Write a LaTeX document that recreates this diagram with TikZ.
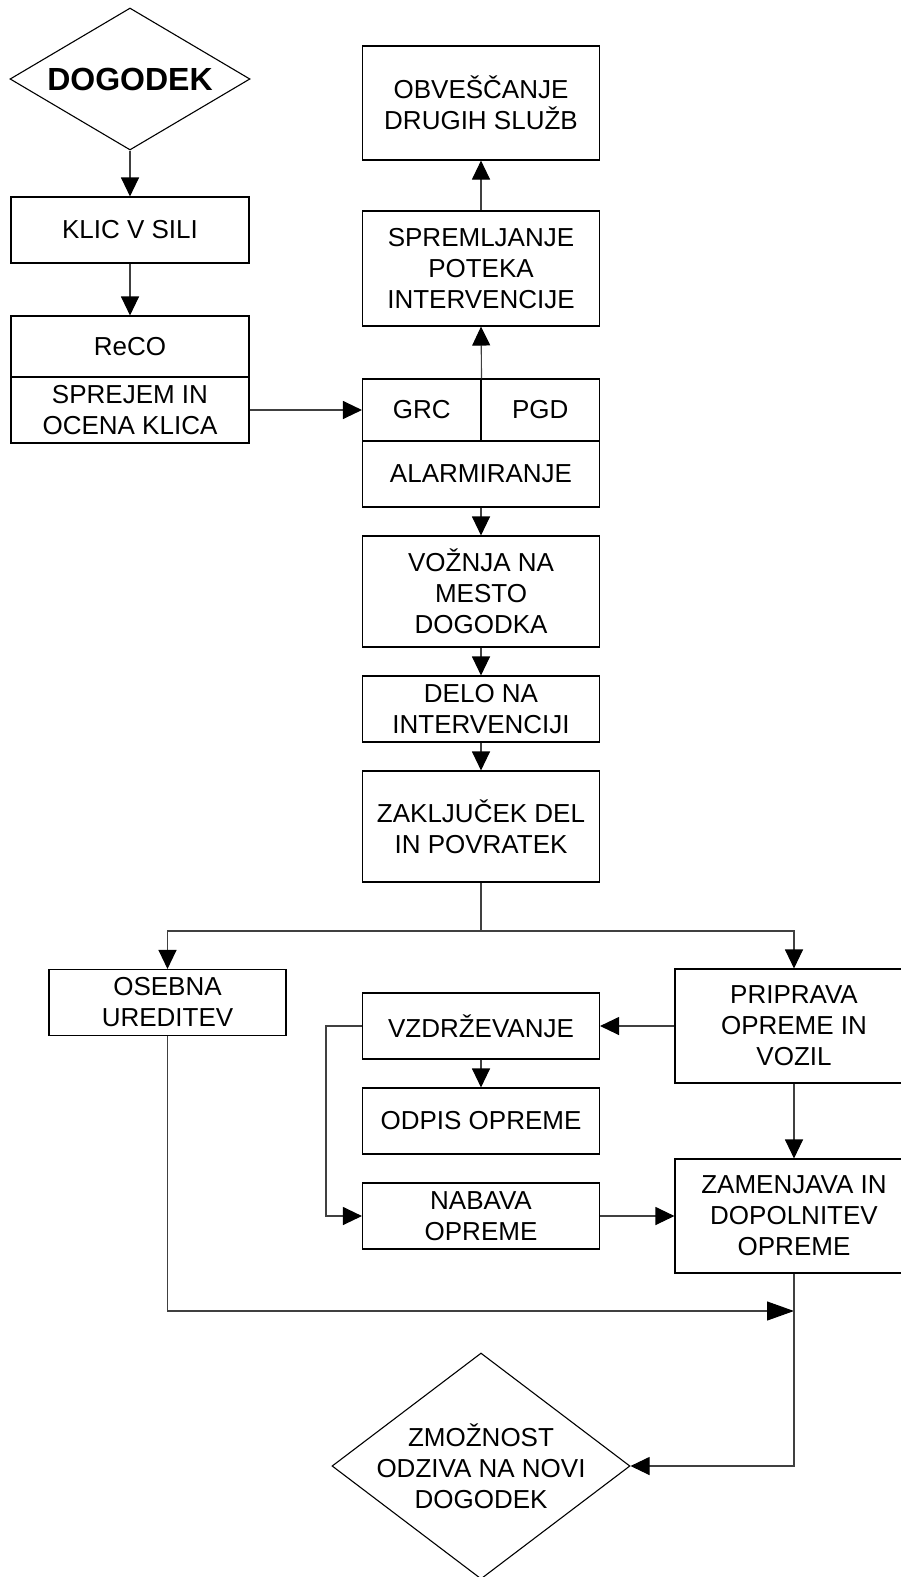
\documentclass[tikz,border=0pt]{standalone}
\usepackage{fontspec}
\setmainfont{Liberation Sans}
\usetikzlibrary{shapes.geometric,arrows.meta}
\begin{document}
\begin{tikzpicture}[x=1pt, y=-1pt, font=\fontsize{26}{31}\selectfont]
\useasboundingbox (0,0) rectangle (901,1577);
\clip (0,0) rectangle (901,1577);
\tikzset{every node/.style={draw, line width=1.1pt, align=center, inner sep=0pt}}
\tikzset{box/.style={rectangle, minimum width=237pt, minimum height=66pt}}
\tikzset{tallbox/.style={box, minimum height=114pt}}
\tikzset{halfbox/.style={rectangle, minimum width=118.5pt, minimum height=62pt}}
\tikzset{decision/.style={diamond, aspect=1.4}}
\node[decision, minimum width=240pt, minimum height=142pt, font=\fontsize{32}{38}\selectfont\bfseries] (dogodek) at (130, 79) {DOGODEK};
\node[box, minimum width=238pt] (klic) at (130, 230) {KLIC V SILI};
\node[box, minimum width=238pt, minimum height=61pt] (reco) at (130, 346.5) {ReCO};
\node[box, minimum width=238pt] (sprejem) at (130, 410) {SPREJEM IN\\OCENA KLICA};
\node[tallbox] (obvescanje) at (481, 103) {OBVEŠČANJE\\DRUGIH SLUŽB};
\node[tallbox, minimum height=115pt] (spremljanje) at (481, 268.5) {SPREMLJANJE\\POTEKA\\INTERVENCIJE};
\node[halfbox] (grc) at (421.75, 410) {GRC};
\node[halfbox] (pgd) at (540.25, 410) {PGD};
\node[box] (alarmiranje) at (481, 474) {ALARMIRANJE};
\node[tallbox, minimum height=111pt] (voznja) at (481, 591.5) {VOŽNJA NA\\MESTO\\DOGODKA};
\node[box] (delo) at (481, 709) {DELO NA\\INTERVENCIJI};
\node[tallbox, minimum height=111pt] (zakljucek) at (481, 826.5) {ZAKLJUČEK DEL\\IN POVRATEK};
\node[box] (osebna) at (167.5, 1002.5) {OSEBNA\\UREDITEV};
\node[tallbox, minimum width=238pt] (priprava) at (794, 1026) {PRIPRAVA\\OPREME IN\\VOZIL};
\node[box] (vzdrzevanje) at (481, 1026) {VZDRŽEVANJE};
\node[box] (odpis) at (481, 1121) {ODPIS OPREME};
\node[box] (nabava) at (481, 1216) {NABAVA\\OPREME};
\node[tallbox, minimum width=238pt] (zamenjava) at (794, 1216) {ZAMENJAVA IN\\DOPOLNITEV\\OPREME};
\node[decision, minimum width=298pt, minimum height=226pt, inner sep=-30pt] (zmoznost) at (481, 1466) {ZMOŽNOST\\ODZIVA NA NOVI\\DOGODEK};

\coordinate (split) at (481, 931);
\coordinate (vzbend) at (326, 1026);
\coordinate (merge) at (794, 1311);

\tikzset{every node/.style={}}
\tikzset{flow/.style={-{Triangle[length=19pt,width=18pt,color=black]}, line width=1.1pt, draw=black!75}}
\tikzset{longflow/.style={flow, -{Triangle[length=27pt,width=19pt,color=black]}}}
\tikzset{link/.style={-, line width=1.1pt, draw=black!75}}
\path (dogodek.south) edge [flow] (klic.north);
\path (klic.south) edge [flow] (reco.north);
\path (sprejem.east) edge [flow] (grc.west);
\path (grc.north east) edge [flow] (spremljanje.south);
\path (spremljanje.north) edge [flow] (obvescanje.south);
\path (alarmiranje.south) edge [flow] (voznja.north);
\path (voznja.south) edge [flow] (delo.north);
\path (delo.south) edge [flow] (zakljucek.north);
\path (zakljucek.south) edge [link] (split);
\draw [flow] (split) -| (osebna.north);
\draw [flow] (split) -| (priprava.north);
\path (priprava.west) edge [flow] (vzdrzevanje.east);
\path (vzdrzevanje.south) edge [flow] (odpis.north);
\draw [flow] (vzdrzevanje.west) -- (vzbend) |- (nabava.west);
\path (nabava.east) edge [flow] (zamenjava.west);
\path (priprava.south) edge [flow] (zamenjava.north);
\draw [longflow] (osebna.south) |- (merge);
\draw [flow] (zamenjava.south) |- (zmoznost.east);
\end{tikzpicture}
\end{document}
